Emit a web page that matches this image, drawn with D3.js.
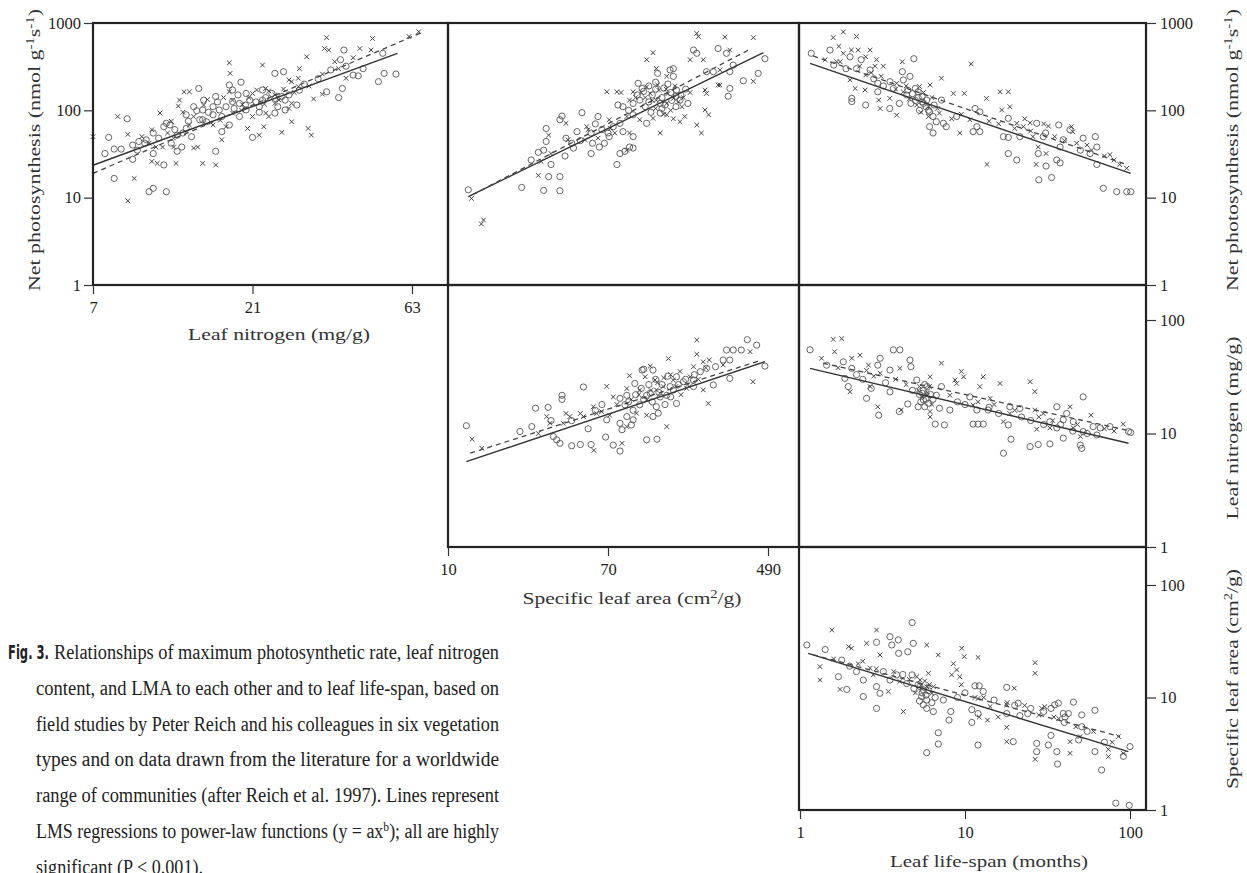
<!DOCTYPE html>
<html>
<head>
<meta charset="utf-8">
<script src="https://cdn.jsdelivr.net/npm/d3@7"></script>
<style>
  body { margin: 0; background: #fff; }
  svg text { font-family: "Liberation Serif", "DejaVu Serif", serif; fill: #222; }
</style>
</head>
<body>
<div id="chart"></div>
<script>

// ---- tick values ----
var nTicks = [7, 21, 63];
var slaTicks = [10, 70, 490];
var lsTicks = [1, 10, 100];
var npTicks = [1, 10, 100, 1000];
var lnTicks = [1, 10, 100];
var slaYTicks = [1, 10, 100];

// ---- panel 1: leaf N (x) vs net photosynthesis (y) ----
var p1Circles = [[39.4,490],[38.5,380],[51.5,450],[52,265],[56.4,260],[50,213],[42,253],[43.5,248],[39,178],[38,140],[35,163],[26,277],[24.5,265],[19.4,210],[17.9,195],[18.3,171],[14.5,178],[15,131],[16.3,144],[14.9,101],[14.3,99],[16,110],[16.7,101],[17.5,110],[18.3,126],[19.2,120],[20.1,156],[22.5,171],[24,156],[24.5,137],[25.7,144],[28.5,115],[26.3,101],[24.5,93],[22,110],[20.1,101],[19.2,85],[17.9,68],[17,57],[15.3,74],[14.6,78],[13.3,62],[13,55],[12.5,52],[11.4,65],[11.9,68],[11.6,71],[21,49],[8.86,80],[7.8,49],[7.6,32],[8.1,36],[8.5,36],[9.2,40],[9.6,44],[10.1,46],[10.6,55],[10.6,32],[11.4,23.7],[12.5,34],[12.9,38],[16.3,34],[9.2,27.5],[8.1,16.6],[10.3,11.7],[10.6,12.8],[11.6,11.7],[13.3,89],[14.9,78],[20.6,131],[22.5,131],[26.3,131],[16,89],
  [15.5,95],[17,85],[18.5,105],[20,115],[21.5,125],[23,140],[19,150],[16.5,125],[14,110],[13.5,75],[12.3,60],[11,48],[10,42],[9.5,35],[12,42],[13.8,50],[22,95],[25,110],[27,150],[29,170],[30,200],[33,230],[36,290],[40,320],[45,300]];
var p1Crosses = [[35,680],[48,665],[44,510],[34.5,510],[35.5,490],[30.5,410],[37,360],[47.5,490],[61.7,700],[66,795],[40,233],[34,153],[32,135],[29,300],[27.5,213],[28.8,233],[27,223],[17.9,350],[18,265],[22.5,330],[17.9,163],[13.1,163],[13.6,163],[12.7,131],[12.6,112],[15.4,133],[21,156],[21.6,171],[23,178],[23.5,167],[25.2,131],[27.5,120],[27,105],[23.5,85],[23,93],[21,85],[18.3,93],[17.5,65],[17,46],[16,68],[14,85],[13.6,68],[12.2,48],[11.7,55],[11.1,93],[27.5,74],[25.7,56],[30.8,62],[31.5,52],[22,52],[20.3,62],[22.7,65],[8.3,85],[8.9,53],[10.3,42],[10.8,38],[10.9,24.7],[12.4,24.7],[12.2,38],[14,37],[14.4,38],[14.9,24.7],[16.3,23.7],[10.5,26],[9.3,16.6],[8.9,9.2],[7,50],[18.3,131],[19.6,116],[24.5,120],[28.8,187],
  [15,115],[17.2,140],[19.5,100],[20.5,140],[22.8,118],[24.5,150],[26,175],[28,160],[31,190],[34,260],[38,300],[42,400],[13,95],[12,75],[10.5,60],[9.8,50],[11.3,38],[16.8,77]];
var p1Solid = [[7,23.5],[57,450]];
var p1Dashed = [[7,19],[68,790]];

// ---- panel 2: SLA (x) vs net photosynthesis (y) ----
var p2Circles = [[198,490],[206,450],[267,510],[296,450],[472,390],[149,290],[155,300],[128,265],[155,245],[321,330],[308,277],[232,277],[252,277],[435,265],[363,218],[308,178],[302,145],[101,204],[106,178],[79,115],[84,110],[103,131],[110,110],[132,120],[161,171],[168,131],[132,93],[112,71],[95,89],[81,71],[74.6,65],[84,57],[95,50],[91,38],[81,32],[95,37],[86,34],[62,85],[51,94],[40,86],[39,78],[33,62],[48,57],[57,55],[67,42],[71,50],[58,42],[63,38],[42,48],[33,44],[32,35],[30,33],[27.5,27],[35,24],[41.5,30],[46,37],[57,32],[78,24],[34,17.4],[39,17.4],[24.5,13.1],[32,12.1],[39,12],[12.8,12.3],[120,150],[135,140],[150,160],[140,115],[115,125],[160,145],[125,175],
  [100,150],[108,165],[115,190],[125,210],[138,180],[145,200],[152,130],[170,150],[180,175],[185,120],[95,120],[90,100],[118,95],[135,105],[160,110],[60,70],[65,60],[70,55],[50,45],[45,42]];
var p2Crosses = [[206,760],[210,700],[121,457],[112,380],[126,300],[290,690],[410,680],[190,380],[223,380],[308,490],[143,245],[273,290],[410,215],[273,195],[232,156],[228,171],[95,163],[69,163],[78,163],[82,160],[91,131],[117,156],[126,131],[143,120],[155,137],[172,110],[143,89],[121,81],[103,78],[88,85],[71,78],[76,55],[91,55],[88,35],[178,85],[168,74],[132,55],[206,68],[218,55],[228,101],[238,89],[267,195],[42,71],[34,52],[54,65],[53,46],[43,46],[35,32],[31,26],[30,18],[13.3,9.8],[15.4,5.55],[15,5.0],[130,170],[145,155],[110,140],[165,125],[125,105],[150,100],
  [105,160],[112,185],[128,195],[142,175],[158,190],[175,140],[190,160],[98,140],[120,130],[138,90],[155,80],[62,48],[72,62],[55,60]];
var p2Solid = [[12.8,10.3],[463,457]];
var p2Dashed = [[13.5,10.8],[386,490]];

// ---- panel 3: leaf life-span (x) vs net photosynthesis (y) ----
var p3Circles = [[1.17,450],[1.52,490],[2.01,410],[2.35,380],[2.2,300],[2.66,290],[2.96,204],[3.51,213],[4.9,390],[4.17,277],[4.64,245],[4.23,223],[3.68,178],[4.43,150],[5,178],[5.2,163],[5.5,144],[5.86,131],[5.6,120],[6.1,96],[6.4,85],[6.7,74],[6.1,65],[6.4,55],[7.2,131],[7.7,65],[7.4,71],[4,120],[3.5,105],[2.5,115],[2.96,163],[2.06,137],[2.06,126],[11.5,105],[12.3,96],[11.2,57],[12.3,57],[11.8,65],[8.9,85],[18.3,81],[17.1,50],[18.3,49],[27.2,71],[37,68],[21.5,50],[30.8,55],[43.3,60],[52,48],[39.4,46],[37.7,38],[27.8,32],[37.7,25],[36,27],[31,23],[28,16],[33.5,17],[18.3,32],[20.6,27],[61.7,50],[63,38],[57.3,32],[63,24],[68.9,12.8],[83,11.7],[95.5,11.7],[101,11.7],[50,35],[29.8,50],
  [4.5,170],[4.8,155],[5.2,140],[5.5,125],[5.8,110],[6,100],[5.3,100],[4.7,120],[6.5,115],[5,130],[3.2,190],[2.8,230],[1.9,300],[1.6,330]];
var p3Crosses = [[1.59,680],[1.83,790],[2.2,700],[1.72,540],[1.83,450],[2.05,490],[2.25,490],[2.66,490],[2.5,410],[1.42,380],[1.67,360],[2.91,380],[2.85,320],[3.2,320],[2.01,223],[2.5,253],[3.1,245],[4.17,360],[7.2,233],[10.9,340],[3.85,204],[4.23,163],[5.3,187],[6.14,195],[6,110],[7,93],[6,85],[3.85,88],[3.06,105],[3,131],[3.5,137],[2.48,171],[2.16,178],[8.5,156],[9.9,156],[13.5,137],[9.3,55],[10.7,78],[16.3,163],[18.3,163],[16.7,101],[18.7,110],[20.6,71],[24.8,72],[32,66],[44.2,65],[25.8,50],[47.5,42],[27.8,38],[31,32],[27,24],[13.6,24],[58.5,35],[75.6,31],[86.6,24],[95.5,21.7],[45,57],[22.6,65],
  [4.6,135],[5.1,115],[5.6,160],[6.3,140],[4.4,190],[3.8,175],[2.7,270],[2.3,320],[1.75,360],[6.8,105],[5.4,95],[8.3,80],[9.5,90],[14,75],[16,70],[20,62],[25,58],[35,50],[40,45],[55,40],[70,30],[80,27],[23,80],[30,70]];
var p3Solid = [[1.15,345],[101,19]];
var p3Dashed = [[1.2,420],[95,24]];

// ---- panel 4: SLA (x) vs leaf N (y) ----
var p4Circles = [[12.5,11.7],[24,10.4],[27.7,11.5],[29,16.7],[33.8,17],[36,9.4],[39,8.2],[37.5,8.8],[45,7.8],[50,8],[57,8],[51.9,25.7],[40,21.7],[40,20],[68,9.3],[74.6,7.9],[81,7],[81,20.4],[86,17.9],[68.9,13.2],[81,12.3],[83,10.8],[93,11.9],[95,13.2],[88,14.1],[103,17.9],[117,22.6],[121,36.2],[106,36.2],[97,27.6],[88,21.7],[112,21.7],[132,21],[143,21.7],[149,25.9],[161,31.6],[175,28.6],[155,24.2],[161,18.4],[126,17.2],[121,14.1],[129,15.1],[112,8.8],[127,8.9],[108,36.8],[198,29.6],[232,37.5],[259,38.8],[296,54.4],[321,54.4],[354,54.4],[427,60],[381,67],[284,44.4],[308,44.4],[308,30.6],[252,26.8],[472,39.2],[198,25.9],
  [90,19],[98,22],[105,25],[115,27],[125,30],[135,27],[145,32],[95,16],[108,20],[120,19],[130,23],[140,18],[150,21],[165,27],[180,30],[200,33],[215,35],[60,16],[65,18],[45,13],[35,13],[55,11]];
var p4Crosses = [[13.4,8.9],[15.1,7.4],[30,10],[33.2,14.1],[34.6,12.3],[59,7.1],[61,15],[52,14.1],[40.6,12.3],[44,14.1],[68.9,26],[83,8.2],[58.6,17.2],[64.7,15.6],[74.6,21],[71.4,14.5],[88,11.5],[99,15.1],[112,19.7],[126,24.2],[124,29.6],[110,31.6],[91,32.3],[88,24.9],[103,24.2],[137,25.9],[155,29.6],[168,35.2],[143,11.5],[112,14.5],[146,45.7],[117,39.2],[182,25],[206,66.7],[206,50],[223,42.8],[198,38.8],[240,44.4],[394,52.6],[284,40.2],[223,24.2],[237,18.4],[408,28.6],[190,31.6],
  [93,20],[102,22],[118,24],[128,28],[138,31],[150,33],[160,26],[170,22],[185,27],[210,30],[230,38],[50,15],[42,15],[78,18]];
var p4Solid = [[12.5,5.65],[472,43]];
var p4Dashed = [[13.1,6.7],[454,44.4]];

// ---- panel 5: leaf life-span (x) vs leaf N (y) ----
var p5Circles = [[1.15,54.6],[1.45,40],[1.83,42.8],[3.06,46],[2.96,40],[2.06,37.5],[1.87,30.6],[1.96,25.9],[2.53,20.4],[2.7,25],[3.51,36.2],[3.68,54.6],[4.03,54.6],[4.64,44.4],[4.7,38.8],[3.51,23.3],[3,14.5],[4,15.6],[4.5,18.2],[5.1,29.6],[5.5,22.6],[5.6,19.7],[5.7,17.2],[5.9,25.9],[5.2,17.2],[6.7,21.7],[7.2,25.9],[7,16.7],[8.1,16.1],[6.6,12.1],[7.5,11.9],[10.7,21],[11.8,16.1],[11.2,12.1],[12,12.1],[12.9,12.1],[13.8,16.1],[18.3,11.9],[18.7,17.2],[21.5,16.6],[17.1,6.7],[19,8.9],[24.8,7.66],[27.8,8],[32.7,8.1],[36,17.2],[39.4,9.1],[41.3,15],[39.4,13.2],[32.7,12.7],[36,11.2],[45.3,12.7],[50,7.9],[51,7.4],[52,21],[59.8,11.5],[66,11.2],[75.6,11.5],[98,10.4],[101,10.2],[52,10.4],[63,9.7],
  [5.3,22],[5.6,24],[5.8,20],[6.0,18.5],[5.4,19],[6.2,22],[5.7,27],[6.4,20],[4.8,24],[2.2,33],[2.4,30],[3.3,28],[9,19],[10,18],[14,17],[16,15],[22,14],[25,13],[30,12],[38,12],[45,10.5],[55,10]];
var p5Crosses = [[1.59,67.5],[1.79,68.5],[1.62,52.5],[1.35,46],[2.06,46],[2.31,49],[2.6,40],[2.53,36],[2.01,23.3],[2.66,25.9],[3.06,34],[4.03,37.5],[7.2,41.6],[2.96,17.2],[4.1,16.1],[5.3,25.9],[5.9,21.7],[6.14,31.6],[6.14,15.6],[6.14,14],[8.1,21.7],[8.7,29.6],[8.9,27.6],[9.5,35.2],[9.8,31.6],[11.2,17.8],[12.3,25.9],[12.9,31.6],[14.2,20.4],[16.3,27.6],[17.1,12.7],[18.7,15],[24.8,28.6],[26.5,23.4],[26.5,16.1],[43.3,17.2],[29.8,15],[32.7,11.2],[45.3,11.2],[58,14.5],[91,12.1],[50,9.4],[27.2,10.9],
  [5.5,21],[5.9,23],[6.1,26],[6.3,18],[5.2,24],[4.4,27],[3.8,30],[2.8,32],[1.7,38],[12,19],[15,18],[20,16],[28,14],[34,13],[48,12],[70,11],[80,10.5]];
var p5Solid = [[1.15,37.5],[98,8.2]];
var p5Dashed = [[1.38,41.6],[95.5,10.7]];

// ---- panel 6: leaf life-span (x) vs specific leaf area (y) ----
var p6Circles = [[1.1,29.3],[1.42,26.7],[1.79,21.5],[2.91,30.9],[3.51,34.7],[3.94,32.5],[3.6,29.3],[4.86,30.3],[4.78,46.3],[3.96,24.7],[4.5,25.5],[1.71,15.3],[1.92,11.8],[2.42,14.3],[2.42,10.2],[2.91,12.5],[2.91,8],[3.05,10.9],[3.51,14.3],[3.85,15.9],[4.43,13.3],[4.78,15.9],[5.34,12.5],[5.59,11.7],[5.46,10.2],[5.86,9.5],[5.59,8.6],[6.43,7.5],[5.86,8],[7.39,9.5],[8.2,7.5],[8,6.3],[6.89,4.86],[6.89,3.86],[5.86,3.23],[11.5,12.7],[12.9,11.3],[11,7.8],[12,7.2],[11,6],[12,3.78],[19.6,4.05],[17.9,12.3],[21,8.9],[17.9,7.2],[24,7.2],[27.2,3.91],[27.2,3.3],[32,3.78],[33.2,4.6],[36,3.3],[36.4,2.56],[33.2,8],[35,8.6],[36.8,8.9],[39.4,7.2],[40.4,6.7],[45.4,9.1],[42.3,7.2],[51,7],[51,5.5],[48.8,4.2],[61.3,7.7],[61.3,3.3],[67.3,2.27],[91.2,3],[100,3.66],[82,1.15],[99,1.1],[12.2,12.7],[21.5,6.9],
  [5.2,13],[5.5,11],[5.8,10.5],[6,11.5],[6.3,9],[5.3,9.3],[4.9,12],[6.6,10],[4.2,16],[3.2,17],[2.2,17],[2,19],[9,10],[10,11],[15,9.5],[20,8.5],[25,8],[30,7.5],[40,6],[55,5],[70,4]];
var p6Crosses = [[1.56,39.8],[1.32,18.8],[1.32,14.3],[1.97,28.3],[2.05,27.4],[2.53,30.3],[2.91,39.8],[3.05,23.9],[5.86,29.3],[6.89,23.9],[1.75,11.8],[2.25,20],[2.66,18.2],[2.78,15.9],[3.43,11.3],[4.03,13.9],[4.23,7.5],[5.1,15.3],[5.34,14.3],[5.86,12.5],[6.3,10.9],[6,16.4],[6.43,12.5],[8.5,20],[8.9,17.6],[9.3,15.3],[8.3,15.9],[9.55,27.4],[9.9,23.1],[12,22.7],[12,9.8],[12.2,6.7],[13.7,6.3],[17.9,5.43],[17.9,4.05],[19.9,12.1],[17.9,8.6],[15.9,6.7],[26.6,20.4],[26.6,16.4],[26.6,2.82],[30.4,8.3],[29.2,8],[43.3,4.05],[43.3,3.19],[49.8,4.5],[73.9,2.98],[73.9,3.46],[91.2,3.19],[85,4.5],[14.2,8.3],[34.6,6.7],
  [5.4,12.8],[5.7,14],[6.1,13],[5.0,11],[4.6,14.5],[3.7,17],[2.9,18],[2.4,21],[1.6,22],[9.5,13],[11.5,10],[13,10],[18,9],[23,8.5],[28,7],[37,6.5],[47,5.5],[60,5],[78,4]];
var p6Solid = [[1.12,24.7],[97.7,3.3]];
var p6Dashed = [[1.2,24],[87,4.5]];

// ---- caption ----
var captionLines = [
  "Relationships of maximum photosynthetic rate, leaf nitrogen",
  "content, and LMA to each other and to leaf life-span, based on",
  "field studies by Peter Reich and his colleagues in six vegetation",
  "types and on data drawn from the literature for a worldwide",
  "range of communities (after Reich et al. 1997). Lines represent",
  "LMS regressions to power-law functions (y = ax|b|); all are highly",
  "significant (P < 0.001)."
];

var width = 1247, height = 873;

var svg = d3.select("#chart").append("svg")
    .attr("width", width)
    .attr("height", height);

// scales
var xN = d3.scaleLog().domain([7, 63]).range([93, 412]);
var xSLA = d3.scaleLog().domain([10, 490]).range([448, 768]);
var xLS = d3.scaleLog().domain([1, 100]).range([800, 1130]);
var yNP = d3.scaleLog().domain([1, 1000]).range([285, 23]);
var yLN = d3.scaleLog().domain([1, 100]).range([547, 320]);
var ySLA = d3.scaleLog().domain([1, 100]).range([810, 585]);

var panels = [
  {x: xN,   y: yNP,  box: [93, 23, 448, 285],   circles: p1Circles, crosses: p1Crosses, solid: p1Solid, dashed: p1Dashed},
  {x: xSLA, y: yNP,  box: [448, 23, 799, 285],  circles: p2Circles, crosses: p2Crosses, solid: p2Solid, dashed: p2Dashed},
  {x: xLS,  y: yNP,  box: [799, 23, 1146, 285], circles: p3Circles, crosses: p3Crosses, solid: p3Solid, dashed: p3Dashed},
  {x: xSLA, y: yLN,  box: [448, 285, 799, 547], circles: p4Circles, crosses: p4Crosses, solid: p4Solid, dashed: p4Dashed},
  {x: xLS,  y: yLN,  box: [799, 285, 1146, 547],circles: p5Circles, crosses: p5Crosses, solid: p5Solid, dashed: p5Dashed},
  {x: xLS,  y: ySLA, box: [799, 547, 1146, 810],circles: p6Circles, crosses: p6Crosses, solid: p6Solid, dashed: p6Dashed}
];

panels.forEach(function(p) {
  var g = svg.append("g");

  g.selectAll(".circ")
    .data(p.circles)
   .enter().append("circle")
    .attr("class", "circ")
    .attr("cx", function(d) { return p.x(d[0]); })
    .attr("cy", function(d) { return p.y(d[1]); })
    .attr("r", 3.1)
    .attr("fill", "none")
    .attr("stroke", "#555")
    .attr("stroke-width", 0.9);

  g.selectAll(".cross")
    .data(p.crosses)
   .enter().append("path")
    .attr("class", "cross")
    .attr("transform", function(d) { return "translate(" + p.x(d[0]) + "," + p.y(d[1]) + ")"; })
    .attr("d", "M-2.3,-2.3L2.3,2.3M-2.3,2.3L2.3,-2.3")
    .attr("stroke", "#444")
    .attr("stroke-width", 1);

  var line = d3.line()
      .x(function(d) { return p.x(d[0]); })
      .y(function(d) { return p.y(d[1]); });

  g.append("path")
    .datum(p.solid)
    .attr("d", line)
    .attr("fill", "none")
    .attr("stroke", "#333")
    .attr("stroke-width", 1.4);

  g.append("path")
    .datum(p.dashed)
    .attr("d", line)
    .attr("fill", "none")
    .attr("stroke", "#444")
    .attr("stroke-width", 1.3)
    .attr("stroke-dasharray", "5,4");

  // frame
  svg.append("rect")
    .attr("x", p.box[0]).attr("y", p.box[1])
    .attr("width", p.box[2] - p.box[0])
    .attr("height", p.box[3] - p.box[1])
    .attr("fill", "none")
    .attr("stroke", "#222")
    .attr("stroke-width", 2.2);
});

// axes
function styleAxis(sel) {
  sel.select(".domain").remove();
  sel.selectAll("line").attr("stroke", "#333").attr("stroke-width", 1.2);
  sel.selectAll("text")
    .attr("font-family", "Liberation Serif, DejaVu Serif, serif")
    .style("font-size", "16.5px")
    .attr("fill", "#222");
}
var fmt = d3.format("d");

svg.append("g").attr("transform", "translate(93,0)")
  .call(d3.axisLeft(yNP).tickValues(npTicks).tickSize(9).tickPadding(3).tickFormat(fmt))
  .call(styleAxis);

svg.append("g").attr("transform", "translate(0,285)")
  .call(d3.axisBottom(xN).tickValues(nTicks).tickSize(9).tickPadding(7).tickFormat(fmt))
  .call(styleAxis);

svg.append("g").attr("transform", "translate(0,547)")
  .call(d3.axisBottom(xSLA).tickValues(slaTicks).tickSize(9).tickPadding(7).tickFormat(fmt))
  .call(styleAxis);

svg.append("g").attr("transform", "translate(0,810)")
  .call(d3.axisBottom(xLS).tickValues(lsTicks).tickSize(9).tickPadding(7).tickFormat(fmt))
  .call(styleAxis);

svg.append("g").attr("transform", "translate(1146,0)")
  .call(d3.axisRight(yNP).tickValues(npTicks).tickSize(10).tickPadding(4).tickFormat(fmt))
  .call(styleAxis);

svg.append("g").attr("transform", "translate(1146,0)")
  .call(d3.axisRight(yLN).tickValues(lnTicks).tickSize(10).tickPadding(4).tickFormat(fmt))
  .call(styleAxis);

svg.append("g").attr("transform", "translate(1146,0)")
  .call(d3.axisRight(ySLA).tickValues(slaYTicks).tickSize(10).tickPadding(4).tickFormat(fmt))
  .call(styleAxis);

// axis titles (stretched to the width the printed serif takes)
function title(x, y, rot, len, parts) {
  var t = svg.append("text")
    .attr("transform", "translate(" + x + "," + y + ")" + (rot ? " rotate(" + rot + ")" : ""))
    .attr("text-anchor", "middle")
    .attr("textLength", len)
    .attr("lengthAdjust", "spacingAndGlyphs")
    .style("font-size", "17px")
    .style("fill", "#333");
  parts.forEach(function(s) {
    if (typeof s === "object") {
      t.append("tspan").attr("baseline-shift", "super").style("font-size", "11.5px").text(s.sup);
    } else {
      t.append("tspan").text(s);
    }
  });
  return t;
}

var npTitle = ["Net photosynthesis (nmol g", {sup: "-1"}, "s", {sup: "-1"}, ")"];
var slaTitle = ["Specific leaf area (cm", {sup: "2"}, "/g)"];

title(279, 340, 0, 182, ["Leaf nitrogen (mg/g)"]);
title(632, 604, 0, 219, slaTitle);
title(989, 867, 0, 198, ["Leaf life-span (months)"]);
title(40, 150, -90, 282, npTitle);
title(1238, 150, -90, 282, npTitle);
title(1238, 428, -90, 183, ["Leaf nitrogen (mg/g)"]);
title(1238, 679, -90, 220, slaTitle);

// caption
svg.append("text")
  .attr("x", 8).attr("y", 659)
  .attr("textLength", 41)
  .attr("lengthAdjust", "spacingAndGlyphs")
  .style("font-family", "'Liberation Sans Narrow', 'DejaVu Sans Condensed', sans-serif")
  .style("font-weight", "bold")
  .style("font-size", "20px")
  .text("Fig. 3.");

captionLines.forEach(function(s, i) {
  var x0 = i === 0 ? 54 : 36;
  var last = i === captionLines.length - 1;
  var t = svg.append("text")
    .attr("x", x0)
    .attr("y", 659 + i * 35.8)
    .style("font-size", "20px")
    .attr("textLength", last ? 167 : 499 - x0)
    .attr("lengthAdjust", "spacingAndGlyphs");
  s.split("|").forEach(function(part, k) {
    var ts = t.append("tspan").text(part);
    if (k === 1) ts.attr("baseline-shift", "super").style("font-size", "13px");
  });
});

</script>
</body>
</html>
